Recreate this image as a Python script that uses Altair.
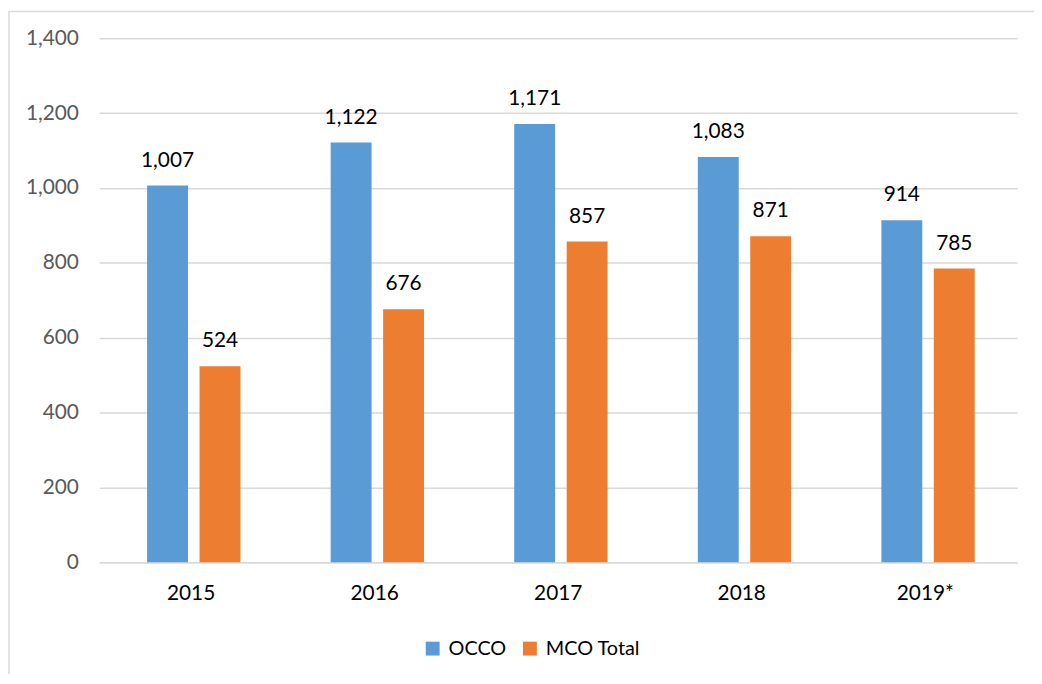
import altair as alt
import pandas as pd

years = ["2015", "2016", "2017", "2018", "2019*"]
occo = [1007, 1122, 1171, 1083, 914]
mco_total = [524, 676, 857, 871, 785]
series = ["OCCO", "MCO Total"]
colors = ["#5B9BD5", "#ED7D31"]
y_ticks = [0, 200, 400, 600, 800, 1000, 1200, 1400]

rows = []
for i, y in enumerate(years):
    rows.append({"year": y, "series": "OCCO", "value": occo[i]})
    rows.append({"year": y, "series": "MCO Total", "value": mco_total[i]})
df = pd.DataFrame(rows)

FONT = "Lato"
FS = 21

y_axis = alt.Axis(values=y_ticks, labelExpr="format(datum.value, ',')",
                  ticks=False, domain=False, gridColor="#D9D9D9", gridWidth=1.5,
                  labelFontSize=FS, labelColor="#595959", labelPadding=21,
                  labelFont=FONT)
y_scale = alt.Scale(domain=[0, 1400], nice=False)

base = alt.Chart(df).encode(
    x=alt.X("year:N", sort=years, title=None,
            scale=alt.Scale(paddingInner=0, paddingOuter=0),
            axis=alt.Axis(labelAngle=0, ticks=False, domain=True, domainColor="#D9D9D9",
                          domainWidth=1.5, labelFontSize=FS, labelColor="#000000",
                          labelPadding=21, labelFont=FONT, grid=False)),
    xOffset=alt.XOffset("series:N", sort=series,
                        scale=alt.Scale(paddingInner=0.22, paddingOuter=0.86, align=0.53)),
    y=alt.Y("value:Q", title=None, scale=y_scale, axis=y_axis),
)

bars = base.mark_bar().encode(
    color=alt.Color("series:N", sort=series,
                    scale=alt.Scale(domain=series, range=colors),
                    legend=alt.Legend(title=None, orient="none", direction="horizontal",
                                      legendX=326, legendY=605,
                                      symbolType="square", symbolSize=196,
                                      symbolStrokeWidth=0, labelFontSize=20,
                                      labelFont=FONT, labelColor="#000000",
                                      labelOffset=6, columnPadding=13)),
)

labels = base.mark_text(baseline="bottom", dy=-15, fontSize=FS, font=FONT,
                        color="#000000").encode(
    text=alt.Text("value:Q", format=","),
)

border_df = pd.DataFrame({"k": [0]})
border = alt.Chart(border_df).mark_rect(fill=None, stroke="#D9D9D9", strokeWidth=1.5).encode(
    x=alt.value(-91), x2=alt.value(1100), y=alt.value(-27), y2=alt.value(800)
)

chart = alt.layer(border, bars, labels).properties(
    width=925, height=528,
    padding={"left": 92, "top": 28, "right": 17, "bottom": 110},
    autosize=alt.AutoSizeParams(type="none"),
).configure_view(stroke=None)

chart.save("out.html", embed_options={"renderer": "svg", "actions": False})
